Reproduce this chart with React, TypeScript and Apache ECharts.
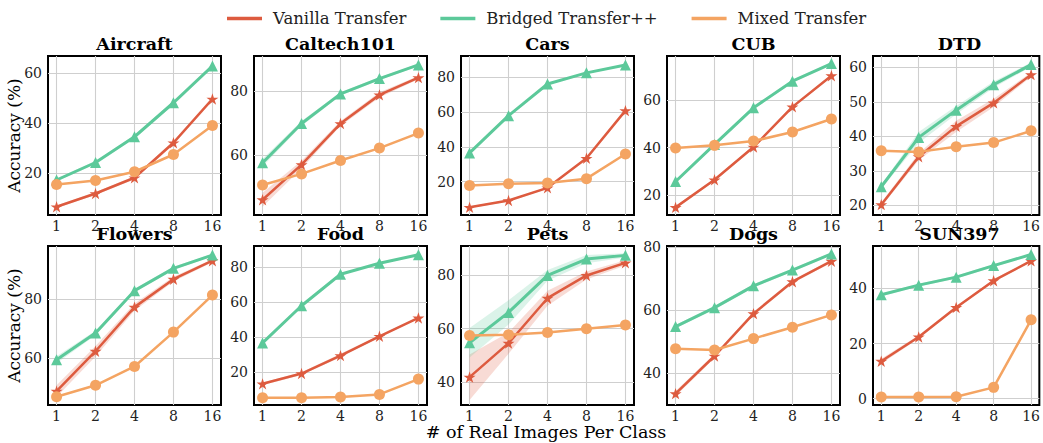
import React, { useEffect, useRef } from 'react';
import * as echarts from 'echarts';

// ---------- data ----------
const xLabels = ['1', '2', '4', '8', '16'];
const xIndex = [0, 1, 2, 3, 4];
const seriesNames = ['Vanilla Transfer', 'Bridged Transfer++', 'Mixed Transfer'];

const datasetNames = ['Aircraft', 'Caltech101', 'Cars', 'CUB', 'DTD', 'Flowers', 'Food', 'Pets', 'Dogs', 'SUN397'];

const aircraftVanilla = [6.4, 11.7, 18.0, 32.0, 49.5];
const aircraftBridged = [17.1, 24.1, 34.4, 48.0, 62.7];
const aircraftMixed = [15.3, 16.9, 20.4, 27.3, 38.9];
const aircraftVanillaErr = [0.5, 0.6, 0.6, 0.8, 0.8];
const aircraftBridgedErr = [0.6, 0.6, 0.6, 0.9, 0.8];
const aircraftRange = [3.1, 66.7];
const aircraftTicks = [20, 40, 60];

const caltechVanilla = [45.9, 56.9, 69.8, 78.8, 84.2];
const caltechBridged = [57.5, 69.8, 79.1, 83.9, 88.2];
const caltechMixed = [50.5, 54.0, 58.2, 62.1, 66.8];
const caltechVanillaErr = [2.2, 1.2, 0.8, 0.8, 0.5];
const caltechBridgedErr = [1.2, 0.8, 0.5, 0.4, 0.4];
const caltechRange = [41.1, 91.0];
const caltechTicks = [60, 80];

const carsVanilla = [5.2, 9.1, 16.4, 33.4, 60.8];
const carsBridged = [36.5, 57.9, 76.1, 82.5, 87.0];
const carsMixed = [17.7, 18.7, 19.2, 21.7, 35.9];
const carsVanillaErr = [0.5, 0.5, 0.5, 0.6, 0.6];
const carsBridgedErr = [0.6, 0.6, 0.5, 0.5, 0.5];
const carsRange = [0.8, 92.2];
const carsTicks = [20, 40, 60, 80];

const cubVanilla = [14.9, 26.5, 40.3, 57.2, 70.3];
const cubBridged = [25.8, 41.4, 56.8, 68.0, 75.4];
const cubMixed = [39.9, 41.0, 42.8, 46.6, 52.1];
const cubVanillaErr = [0.5, 0.6, 0.6, 0.6, 0.5];
const cubBridgedErr = [0.6, 0.6, 0.6, 0.5, 0.5];
const cubRange = [11.7, 78.6];
const cubTicks = [20, 40, 60];

const dtdVanilla = [20.2, 34.1, 42.9, 49.7, 57.9];
const dtdBridged = [25.4, 39.7, 47.6, 55.0, 60.8];
const dtdMixed = [35.8, 35.5, 37.0, 38.2, 41.6];
const dtdVanillaErr = [0.6, 1.0, 1.6, 1.2, 0.6];
const dtdBridgedErr = [0.6, 1.6, 1.2, 0.9, 0.6];
const dtdRange = [17.2, 63.3];
const dtdTicks = [20, 30, 40, 50, 60];

const flowersVanilla = [48.7, 62.3, 77.3, 86.8, 93.1];
const flowersBridged = [59.4, 68.5, 82.9, 90.5, 95.0];
const flowersMixed = [46.8, 50.7, 57.1, 68.8, 81.4];
const flowersVanillaErr = [2.0, 1.8, 1.2, 0.8, 0.5];
const flowersBridgedErr = [1.2, 0.8, 0.5, 0.5, 0.4];
const flowersRange = [44.0, 98.1];
const flowersTicks = [60, 80];

const foodVanilla = [13.1, 19.0, 29.3, 40.4, 50.9];
const foodBridged = [36.6, 57.9, 76.0, 82.3, 87.2];
const foodMixed = [5.1, 5.1, 5.5, 7.0, 15.8];
const foodVanillaErr = [0.8, 0.8, 1.0, 0.6, 0.5];
const foodBridgedErr = [0.5, 0.5, 0.5, 0.5, 0.4];
const foodRange = [0.95, 92.2];
const foodTicks = [20, 40, 60, 80];

const petsVanilla = [41.9, 54.6, 71.4, 79.9, 84.6];
const petsBridged = [54.75, 66.1, 79.9, 86.0, 87.4];
const petsMixed = [57.5, 57.75, 58.6, 60.0, 61.4];
const petsVanillaErr = [8.5, 4.0, 2.8, 1.5, 1.0];
const petsBridgedErr = [5.5, 4.5, 2.0, 1.5, 0.8];
const petsRange = [31.5, 90.9];
const petsTicks = [40, 60, 80];

const dogsVanilla = [33.6, 45.5, 58.9, 69.0, 75.5];
const dogsBridged = [54.8, 60.8, 67.7, 72.7, 77.8];
const dogsMixed = [47.8, 47.4, 51.0, 54.6, 58.5];
const dogsVanillaErr = [0.8, 0.6, 0.6, 0.5, 0.5];
const dogsBridgedErr = [0.5, 0.5, 0.5, 0.5, 0.4];
const dogsRange = [30.0, 80.3];
const dogsTicks = [40, 60, 80];

const sunVanilla = [13.6, 22.4, 33.1, 42.8, 50.0];
const sunBridged = [37.7, 41.2, 44.1, 48.3, 52.3];
const sunMixed = [0.6, 0.6, 0.7, 4.1, 28.6];
const sunVanillaErr = [0.9, 0.6, 0.5, 0.5, 0.4];
const sunBridgedErr = [0.5, 0.5, 0.5, 0.5, 0.4];
const sunRange = [-2.3, 55.4];
const sunTicks = [0, 20, 40];

const vanillaAll = [aircraftVanilla, caltechVanilla, carsVanilla, cubVanilla, dtdVanilla, flowersVanilla, foodVanilla, petsVanilla, dogsVanilla, sunVanilla];
const bridgedAll = [aircraftBridged, caltechBridged, carsBridged, cubBridged, dtdBridged, flowersBridged, foodBridged, petsBridged, dogsBridged, sunBridged];
const mixedAll = [aircraftMixed, caltechMixed, carsMixed, cubMixed, dtdMixed, flowersMixed, foodMixed, petsMixed, dogsMixed, sunMixed];
const vanillaErrAll = [aircraftVanillaErr, caltechVanillaErr, carsVanillaErr, cubVanillaErr, dtdVanillaErr, flowersVanillaErr, foodVanillaErr, petsVanillaErr, dogsVanillaErr, sunVanillaErr];
const bridgedErrAll = [aircraftBridgedErr, caltechBridgedErr, carsBridgedErr, cubBridgedErr, dtdBridgedErr, flowersBridgedErr, foodBridgedErr, petsBridgedErr, dogsBridgedErr, sunBridgedErr];
const rangeAll = [aircraftRange, caltechRange, carsRange, cubRange, dtdRange, flowersRange, foodRange, petsRange, dogsRange, sunRange];
const ticksAll = [aircraftTicks, caltechTicks, carsTicks, cubTicks, dtdTicks, flowersTicks, foodTicks, petsTicks, dogsTicks, sunTicks];

// ---------- style / layout ----------
const RED = '#dd5b3f';
const GREEN = '#5cc99a';
const ORANGE = '#f4a462';
const FONT = '"DejaVu Serif", serif';
const STAR = 'path://M50,0 L61.2,34.5 L97.6,34.5 L68.2,55.9 L79.4,90.5 L50,69.1 L20.6,90.5 L31.8,55.9 L2.4,34.5 L38.8,34.5 Z';

const boxLefts = [48, 254, 461, 667, 873];
const rowTops = [56, 246];
const BOX_W = 173;
const BOX_H = 159;

function buildOption() {
  const grid: any[] = [];
  const xAxis: any[] = [];
  const yAxis: any[] = [];
  const series: any[] = [];
  const graphic: any[] = [];

  datasetNames.forEach((name, i) => {
    const left = boxLefts[i % 5];
    const top = rowTops[Math.floor(i / 5)];
    grid.push({
      left, top, width: BOX_W, height: BOX_H,
      show: true, borderColor: '#000', borderWidth: 2, backgroundColor: 'rgba(0,0,0,0)',
      containLabel: false,
    });
    xAxis.push({
      gridIndex: i, type: 'value', min: -0.22, max: 4.22,
      axisLine: { show: false },
      axisTick: { show: false, customValues: xIndex },
      splitLine: { show: true, customValues: xIndex, lineStyle: { color: '#cfcfcf', width: 1.1 } },
      axisLabel: {
        customValues: xIndex,
        formatter: (v: number) => xLabels[Math.round(v)],
        fontFamily: FONT, fontSize: 14, color: '#222', margin: 4,
      },
    });
    yAxis.push({
      gridIndex: i, type: 'value', min: rangeAll[i][0], max: rangeAll[i][1],
      axisLine: { show: false },
      axisTick: { show: false, customValues: ticksAll[i] },
      splitLine: { show: true, customValues: ticksAll[i], lineStyle: { color: '#cfcfcf', width: 1.1 } },
      axisLabel: {
        customValues: ticksAll[i],
        formatter: (v: number) => String(Math.round(v)),
        fontFamily: FONT, fontSize: 14, color: '#222', margin: 6,
      },
    });

    const bands = [
      { vals: vanillaAll[i], err: vanillaErrAll[i], color: RED },
      { vals: bridgedAll[i], err: bridgedErrAll[i], color: GREEN },
    ];
    bands.forEach((b) => {
      const data = xIndex.map((x, k) => [x, b.vals[k] - b.err[k], b.vals[k] + b.err[k]]);
      series.push({
        type: 'custom', name: 'band', xAxisIndex: i, yAxisIndex: i, silent: true, z: 1,
        data,
        encode: { x: 0, y: [1, 2] },
        clip: true,
        renderItem: (params: any, api: any) => {
          if (params.dataIndex !== 0) return null;
          const upper = data.map((d) => api.coord([d[0], d[2]]));
          const lower = data.map((d) => api.coord([d[0], d[1]])).reverse();
          return {
            type: 'polygon',
            shape: { points: upper.concat(lower) },
            style: { fill: b.color, opacity: 0.22 },
          };
        },
      });
    });

    const mains = [
      { name: seriesNames[0], vals: vanillaAll[i], color: RED, symbol: STAR, size: 12, width: 2.5 },
      { name: seriesNames[1], vals: bridgedAll[i], color: GREEN, symbol: 'triangle', size: 11, width: 3 },
      { name: seriesNames[2], vals: mixedAll[i], color: ORANGE, symbol: 'circle', size: 11, width: 2.5 },
    ];
    mains.forEach((m) => {
      series.push({
        type: 'line', name: m.name, xAxisIndex: i, yAxisIndex: i,
        data: xIndex.map((x, k) => [x, m.vals[k]]),
        symbol: m.symbol, symbolSize: m.size, symbolKeepAspect: true, showSymbol: true,
        color: m.color,
        itemStyle: { color: m.color },
        lineStyle: { color: m.color, width: m.width },
        z: 3,
      });
    });

    graphic.push({
      type: 'text', x: left + BOX_W / 2, y: top - 12,
      style: {
        text: name, fill: '#000', font: `bold 17.5px ${FONT}`,
        fontSize: 17.5, fontWeight: 'bold', fontFamily: FONT,
        align: 'center', verticalAlign: 'middle', textAlign: 'center', textVerticalAlign: 'middle',
      },
    });
  });

  rowTops.forEach((top) => {
    graphic.push({
      type: 'text', x: 14, y: top + BOX_H / 2, rotation: Math.PI / 2,
      style: {
        text: 'Accuracy (%)', fill: '#000', font: `17px ${FONT}`,
        fontSize: 17, fontFamily: FONT,
        align: 'center', verticalAlign: 'middle', textAlign: 'center', textVerticalAlign: 'middle',
      },
    });
  });
  graphic.push({
    type: 'text', x: 546, y: 432,
    style: {
      text: '# of Real Images Per Class', fill: '#000', font: `17.5px ${FONT}`,
      fontSize: 17.5, fontFamily: FONT,
      align: 'center', verticalAlign: 'middle', textAlign: 'center', textVerticalAlign: 'middle',
    },
  });

  return {
    animation: false,
    backgroundColor: '#fff',
    legend: {
      data: seriesNames,
      left: 222, top: 5,
      icon: 'rect', itemWidth: 35, itemHeight: 3.5, itemGap: 34,
      textStyle: { fontFamily: FONT, fontSize: 16.5, color: '#222', padding: [0, 0, 0, 6] },
    },
    grid, xAxis, yAxis, series, graphic,
  };
}

export default function App() {
  const ref = useRef<HTMLDivElement>(null);
  useEffect(() => {
    if (!ref.current) return;
    const chart = echarts.init(ref.current, null, { renderer: 'svg' });
    chart.setOption(buildOption() as any);
    return () => chart.dispose();
  }, []);
  return (
    <div
      ref={ref}
      style={{ position: 'absolute', left: 0, top: 0, width: 1043, height: 443 }}
    />
  );
}
